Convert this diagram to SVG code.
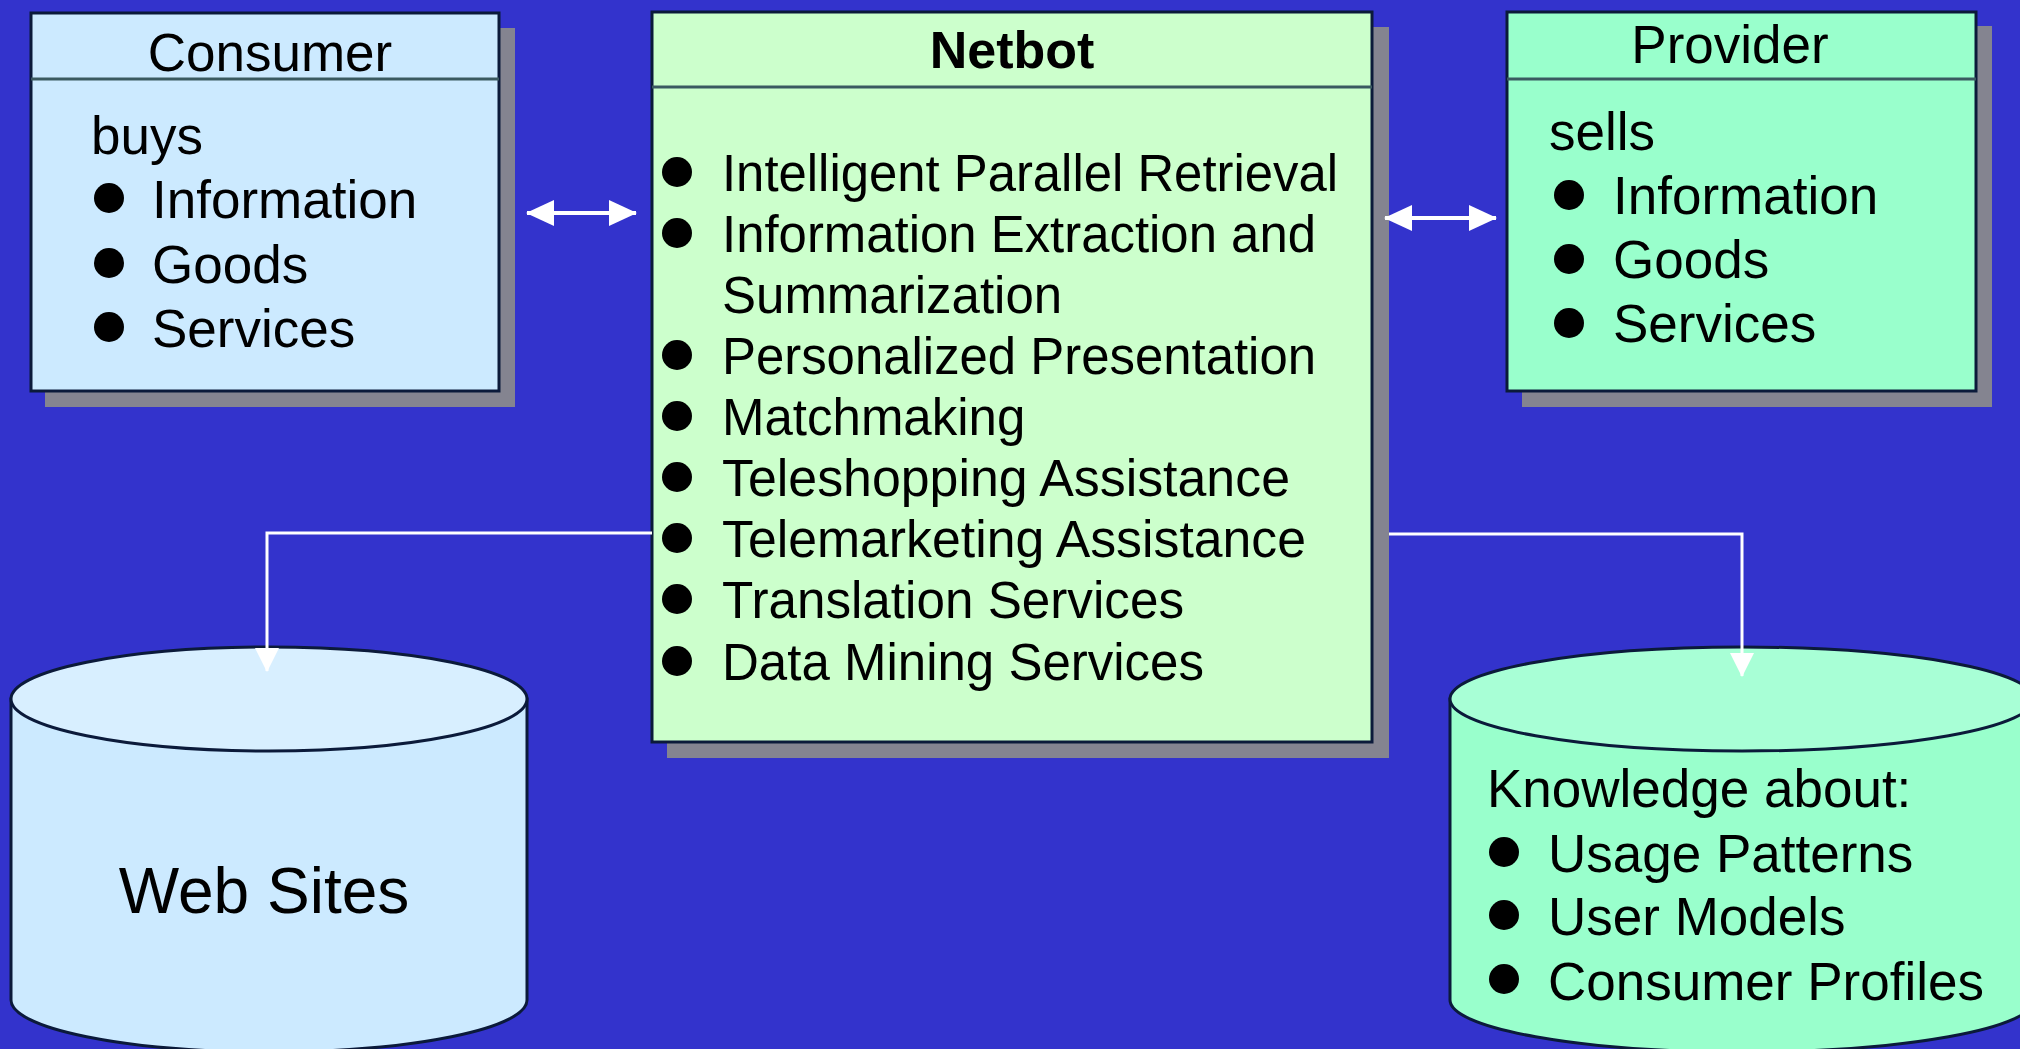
<svg xmlns="http://www.w3.org/2000/svg" width="2020" height="1049" viewBox="0 0 2020 1049">
  <style>
    text { font-family: "Liberation Sans", Arial, sans-serif; fill: #000; }
    .title { font-size: 53px; }
    .bold { font-weight: bold; font-size: 52px; }
    .item { font-size: 53px; }
    .nitem { font-size: 51px; }
    .big { font-size: 64px; }
    .shadow { fill: #848490; }
    .box { stroke: #0b1a3a; stroke-width: 3; }
    .divider { stroke: #3a5a60; stroke-width: 3; }
    .bullet { fill: #000; }
    .conn { stroke: #fff; fill: none; }
  </style>
  <defs>
    <marker id="dbl" viewBox="0 0 28 26" refX="27" refY="13" markerWidth="28" markerHeight="26" markerUnits="userSpaceOnUse" orient="auto-start-reverse">
      <path d="M0,0 L28,13 L0,26 Z" fill="#fff"/>
    </marker>
    <marker id="drop" viewBox="0 0 24 24" refX="23" refY="12" markerWidth="24" markerHeight="24" markerUnits="userSpaceOnUse" orient="auto">
      <path d="M0,0 L24,12 L0,24 Z" fill="#fff"/>
    </marker>
  </defs>

  <!-- background -->
  <rect x="0" y="0" width="2020" height="1049" fill="#3333cc"/>

  <!-- Consumer -->
  <g id="consumer">
    <rect class="shadow" x="45" y="28" width="470" height="379"/>
    <rect class="box" x="31" y="13" width="468" height="378" fill="#cceaff"/>
    <line class="divider" x1="31" y1="79" x2="499" y2="79"/>
    <text class="title" x="270" y="71" text-anchor="middle">Consumer</text>
    <text class="item" x="91" y="154">buys</text>
    <circle class="bullet" cx="109" cy="198" r="15"/>
    <text class="item" x="152" y="218">Information</text>
    <circle class="bullet" cx="109" cy="263" r="15"/>
    <text class="item" x="152" y="283">Goods</text>
    <circle class="bullet" cx="109" cy="327" r="15"/>
    <text class="item" x="152" y="347">Services</text>
  </g>

  <!-- Netbot -->
  <g id="netbot">
    <rect class="shadow" x="667" y="27" width="722" height="731"/>
    <rect class="box" x="652" y="12" width="720" height="730" fill="#ccffcc"/>
    <line class="divider" x1="652" y1="87" x2="1372" y2="87"/>
    <text class="bold" x="1012" y="68" text-anchor="middle">Netbot</text>
    <circle class="bullet" cx="677" cy="172" r="15"/>
    <text class="nitem" x="722" y="191" textLength="616" lengthAdjust="spacingAndGlyphs">Intelligent Parallel Retrieval</text>
    <circle class="bullet" cx="677" cy="233" r="15"/>
    <text class="nitem" x="722" y="252" textLength="594" lengthAdjust="spacingAndGlyphs">Information Extraction and</text>
    <text class="nitem" x="722" y="313">Summarization</text>
    <circle class="bullet" cx="677" cy="355" r="15"/>
    <text class="nitem" x="722" y="374" textLength="594" lengthAdjust="spacingAndGlyphs">Personalized Presentation</text>
    <circle class="bullet" cx="677" cy="416" r="15"/>
    <text class="nitem" x="722" y="435">Matchmaking</text>
    <circle class="bullet" cx="677" cy="477" r="15"/>
    <text class="nitem" x="722" y="496" textLength="568" lengthAdjust="spacingAndGlyphs">Teleshopping Assistance</text>
    <circle class="bullet" cx="677" cy="538" r="15"/>
    <text class="nitem" x="722" y="557" textLength="584" lengthAdjust="spacingAndGlyphs">Telemarketing Assistance</text>
    <circle class="bullet" cx="677" cy="599" r="15"/>
    <text class="nitem" x="722" y="618" textLength="462" lengthAdjust="spacingAndGlyphs">Translation Services</text>
    <circle class="bullet" cx="677" cy="661" r="15"/>
    <text class="nitem" x="722" y="680" textLength="482" lengthAdjust="spacingAndGlyphs">Data Mining Services</text>
  </g>

  <!-- Provider -->
  <g id="provider">
    <rect class="shadow" x="1522" y="26" width="470" height="381"/>
    <rect class="box" x="1507" y="12" width="469" height="379" fill="#99ffcc"/>
    <line class="divider" x1="1507" y1="79" x2="1976" y2="79"/>
    <text class="title" x="1730" y="63" text-anchor="middle">Provider</text>
    <text class="item" x="1549" y="150">sells</text>
    <circle class="bullet" cx="1569" cy="195" r="15"/>
    <text class="item" x="1613" y="214">Information</text>
    <circle class="bullet" cx="1569" cy="259" r="15"/>
    <text class="item" x="1613" y="278">Goods</text>
    <circle class="bullet" cx="1569" cy="323" r="15"/>
    <text class="item" x="1613" y="342">Services</text>
  </g>

  <!-- Web Sites store -->
  <g id="websites">
    <path class="box" d="M11,699 L11,1000 A258,52 0 0 0 527,1000 L527,699 Z" fill="#cceaff"/>
    <ellipse class="box" cx="269" cy="699" rx="258" ry="52" fill="#d8efff"/>
    <text class="big" x="264" y="913" text-anchor="middle">Web Sites</text>
  </g>

  <!-- Knowledge store -->
  <g id="knowledge">
    <path class="box" d="M1450,699 L1450,1000 A292,52 0 0 0 2034,1000 L2034,699 Z" fill="#99ffcc"/>
    <ellipse class="box" cx="1742" cy="699" rx="292" ry="52" fill="#a8ffd6"/>
    <text class="item" x="1487" y="807">Knowledge about:</text>
    <circle class="bullet" cx="1504" cy="852" r="15"/>
    <text class="item" x="1548" y="872">Usage Patterns</text>
    <circle class="bullet" cx="1504" cy="915" r="15"/>
    <text class="item" x="1548" y="935">User Models</text>
    <circle class="bullet" cx="1504" cy="979" r="15"/>
    <text class="item" x="1548" y="1000">Consumer Profiles</text>
  </g>

  <!-- connectors, drawn last so the arrowheads sit on top of the stores -->
  <g id="connectors" class="conn">
    <line x1="527" y1="213" x2="636" y2="213" stroke-width="4" marker-start="url(#dbl)" marker-end="url(#dbl)"/>
    <line x1="1385" y1="218" x2="1496" y2="218" stroke-width="4" marker-start="url(#dbl)" marker-end="url(#dbl)"/>
    <path d="M652,533 L267,533 L267,671" stroke-width="3" marker-end="url(#drop)"/>
    <path d="M1389,534 L1742,534 L1742,676" stroke-width="3" marker-end="url(#drop)"/>
  </g>
</svg>
